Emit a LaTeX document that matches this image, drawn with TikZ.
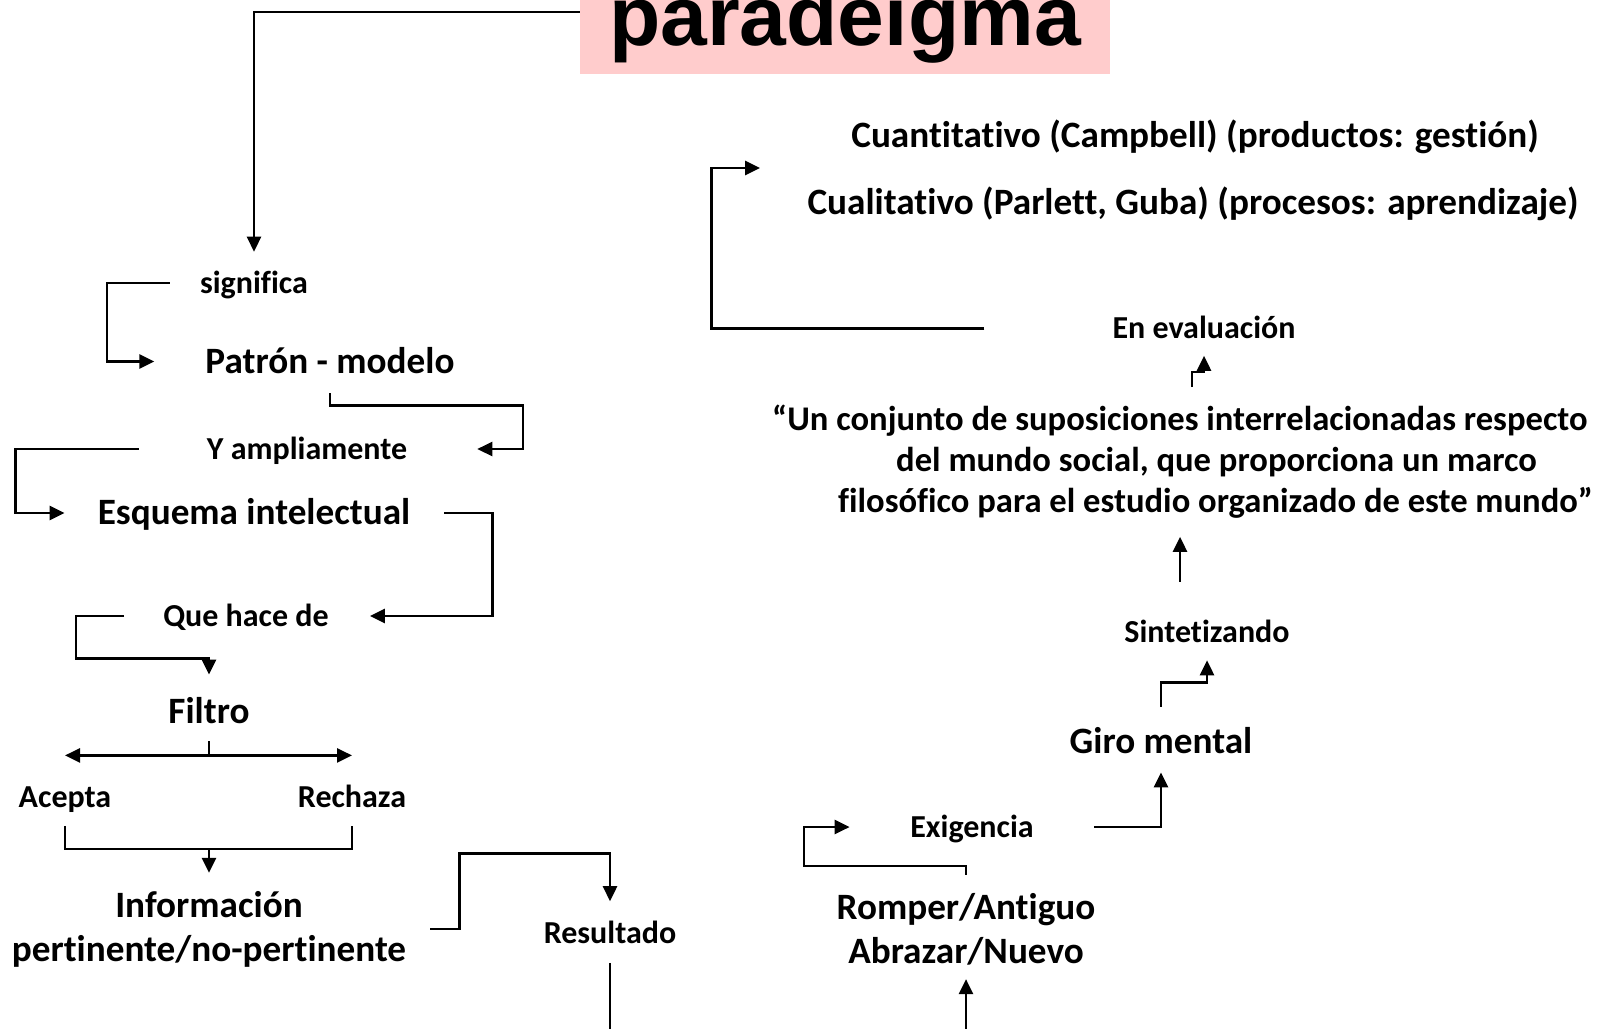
\documentclass[tikz,border=0pt]{standalone}
\usepackage{fontspec}
\setmainfont{Carlito}[Ligatures=NoCommon]
\newfontfamily\titlefont{Liberation Sans}
\usetikzlibrary{arrows.meta, calc}
\definecolor{rosa}{RGB}{255,204,204}
\tikzset{%
  x=1pt, y=-1pt,
  every node/.style={inner sep=0pt},
  titulo/.style={
    fill=rosa,
    font=\titlefont\bfseries\fontsize{84}{90}\selectfont,
    minimum width=530pt, minimum height=124pt,
    text height=66pt, text depth=0pt},
  big/.style={
    font=\bfseries\fontsize{37.2}{44}\selectfont,
    text height=23.4pt, text depth=0pt},
  small/.style={
    font=\bfseries\fontsize{32}{38}\selectfont,
    text height=20.2pt, text depth=0pt},
  bigm/.style={
    font=\bfseries\fontsize{37.2}{44}\selectfont,
    align=center},
  cita/.style={
    font=\bfseries\fontsize{34.6}{41}\selectfont,
    align=left},
  linea/.style={draw, line width=2.6pt},
  flecha/.style={linea, -{Triangle[length=15pt,width=14pt]}} %
}

\begin{document}
\begin{tikzpicture}
    \useasboundingbox (0,0) rectangle (1605,1028);
    \clip (0,0) rectangle (1605,1028);

    \node[titulo] (titulo) at (845,12) {paradeigma};

    % left column
    \node[small] (sig)  at (254,283)   {significa};
    \node[big]   (pat)  at (330,361.5) {Patrón - modelo};
    \node[small] (yam)  at (307,449)   {Y ampliamente};
    \node[big]   (esq)  at (254,513)   {Esquema intelectual};
    \node[small] (que)  at (246,616)   {Que hace de};
    \node[big]   (fil)  at (209,712)   {Filtro};
    \node[small] (ace)  at (65,797.5)  {Acepta};
    \node[small] (rec)  at (352,797.5) {Rechaza};
    \node[bigm]  (info) at (209,929)   {Información\\pertinente/no-pertinente};
    \node[small] (res)  at (610,933.5) {Resultado};

    % right column
    \node[bigm]  (rom)  at (966,929.5) {Romper/Antiguo\\Abrazar/Nuevo};
    \node[small] (exi)  at (972,827)   {Exigencia};
    \node[big]   (giro) at (1161,741.5) {Giro mental};
    \node[small] (sin)  at (1207,632)  {Sintetizando};
    \node[cita, anchor=north west] (cita) at (772,405)
      {“Un conjunto de suposiciones interrelacionadas respecto\\
       \hspace*{124pt}del mundo social, que proporciona un marco\\
       \hspace*{66pt}filosófico para el estudio organizado de este mundo”};
    \node[small] (eval) at (1204,328.5) {En evaluación};
    \node[big]   (cuan) at (1195,136)  {Cuantitativo (Campbell) (productos: gestión)};
    \node[big]   (cual) at (1193,202.5) {Cualitativo (Parlett, Guba) (procesos: aprendizaje)};
    \coordinate (modos) at (760,168);

    \draw[flecha] (titulo.west) -| ([yshift=21pt]sig.north);
    \draw[flecha] ([xshift=-30pt]sig.west) -- ++(-63,0) |- ([xshift=-51pt]pat.west);
    \draw[flecha] ([yshift=-20pt]pat.south) -- ++(0,12) -- ++(193,0) |- ([xshift=70pt]yam.east);
    \draw[flecha] ([xshift=-68pt]yam.west) -- ++(-123,0) |- ([xshift=-33pt]esq.west);
    \draw[flecha] ([xshift=34pt]esq.east) -- ++(48,0) |- ([xshift=41pt]que.east);
    \draw[flecha] ([xshift=-39pt]que.west) -- ++(-48,0) |- ([yshift=41.5pt]fil.north)
      -- ([yshift=25.5pt]fil.north);
    \draw[linea] ([yshift=-17.5pt]fil.south) -- ++(0,14) coordinate (rama);
    \draw[flecha] (rama) -- (rama -| ace.north);
    \draw[flecha] (rama) -- (rama -| rec.north);
    \draw[linea] ([yshift=-18pt]ace.south) -- ++(0,23) coordinate (junta)
      -| ([yshift=-18pt]rec.south);
    \draw[flecha] (junta -| info.north) -- ([yshift=18pt]info.north);
    \draw[flecha] ([xshift=24pt]info.east) -- ++(29,0) |- ([yshift=70pt]res.north)
      -- ([yshift=22pt]res.north);
    \draw[flecha] ([yshift=-19pt]res.south) -- ++(0,120) -| ([yshift=-13.5pt]rom.south);

    \draw[flecha] ([yshift=18.5pt]rom.north) -- ++(0,-9) -- ++(-162,0) |- ([xshift=-60.5pt]exi.west);
    \draw[flecha] ([xshift=60.5pt]exi.east) -| ([yshift=-19pt]giro.south);
    \draw[flecha] ([yshift=23pt]giro.north) -- ++(0,-24) -| ([yshift=-18pt]sin.south);
    \draw[flecha] ($(sin.north)+(-27,-40)$) -- ($(sin.north |- cita.south)+(-27,18)$);
    \draw[flecha] ($(cita.north -| eval.south)+(-12,-18)$) -- ++(0,-15) -| ([yshift=-17pt]eval.south);
    \draw[flecha] ([xshift=-128pt]eval.west) -- ++(-273,0) |- (modos);

\end{tikzpicture}
\end{document}
